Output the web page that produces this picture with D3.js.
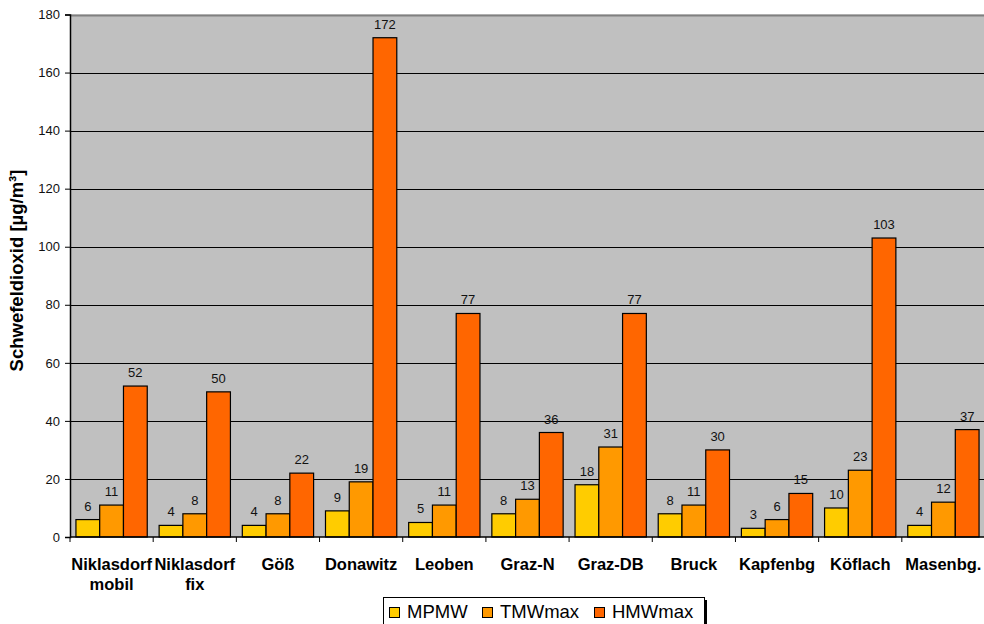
<!DOCTYPE html>
<html>
<head>
<meta charset="utf-8">
<script src="https://cdn.jsdelivr.net/npm/d3@7/dist/d3.min.js"></script>
<style>
  html, body { margin: 0; padding: 0; background: #fff; }
  svg { display: block; font-family: Arial, "Liberation Sans", sans-serif; }
</style>
</head>
<body>
<svg id="chart" width="984" height="624"></svg>
<script>
// Stations and SO2 readings per station
const stations = ["Niklasdorf\nmobil", "Niklasdorf\nfix", "Göß", "Donawitz", "Leoben", "Graz-N", "Graz-DB", "Bruck", "Kapfenbg", "Köflach", "Masenbg."];
const seriesNames = ["MPMW", "TMWmax", "HMWmax"];
const mpmw   = [6, 4, 4, 9, 5, 8, 18, 8, 3, 10, 4];
const tmwmax = [11, 8, 8, 19, 11, 13, 31, 11, 6, 23, 12];
const hmwmax = [52, 50, 22, 172, 77, 36, 77, 30, 15, 103, 37];
const yTicks = [0, 20, 40, 60, 80, 100, 120, 140, 160, 180];
const seriesColors = ["#FFCC00", "#FF9900", "#FF6600"];
const yTitle = "Schwefeldioxid [µg/m³]";

const seriesValues = [mpmw, tmwmax, hmwmax];
const rows = stations.map((s, i) => ({
  station: s,
  values: seriesNames.map((n, k) => ({ name: n, value: seriesValues[k][i], color: seriesColors[k] }))
}));

const svg = d3.select("#chart");
const plot = { left: 70, top: 14.5, right: 985, bottom: 537 };

const x = d3.scaleBand().domain(stations).range([plot.left, plot.right]).paddingInner(0).paddingOuter(0);
const xs = d3.scaleBand().domain(seriesNames).range([0, x.bandwidth()]).paddingInner(0).paddingOuter(0.25);
const y = d3.scaleLinear().domain([0, 180]).range([plot.bottom, plot.top]);

// plot background
svg.append("rect")
  .attr("x", plot.left).attr("y", plot.top)
  .attr("width", plot.right - plot.left).attr("height", plot.bottom - plot.top)
  .attr("fill", "#C0C0C0");

// horizontal gridlines
svg.append("g").selectAll("line")
  .data(yTicks.filter(t => t > 0))
  .join("line")
  .attr("x1", plot.left).attr("x2", plot.right)
  .attr("y1", d => Math.round(y(d)) + 0.5).attr("y2", d => Math.round(y(d)) + 0.5)
  .attr("stroke", d => d === 180 ? "#808080" : "#000")
  .attr("stroke-width", d => d === 180 ? 2 : 1);

// bars
const groups = svg.append("g").selectAll("g")
  .data(rows)
  .join("g")
  .attr("transform", d => `translate(${x(d.station)},0)`);

groups.selectAll("rect")
  .data(d => d.values)
  .join("rect")
  .attr("x", d => xs(d.name))
  .attr("y", d => y(d.value))
  .attr("width", xs.bandwidth())
  .attr("height", d => y(0) - y(d.value))
  .attr("fill", d => d.color)
  .attr("stroke", "#000")
  .attr("stroke-width", 1.2);

// value labels
groups.selectAll("text")
  .data(d => d.values)
  .join("text")
  .attr("x", d => xs(d.name) + xs.bandwidth() / 2)
  .attr("y", d => y(d.value) - 9)
  .attr("text-anchor", "middle")
  .attr("font-size", 13)
  .attr("fill", "#111")
  .text(d => d.value);

// y axis
const yAxis = d3.axisLeft(y).tickValues(yTicks).tickSize(5).tickPadding(5).tickFormat(d3.format("d"));
const yg = svg.append("g").attr("transform", `translate(${plot.left},0)`).call(yAxis);
yg.select(".domain").attr("stroke", "#000").attr("stroke-width", 1.5);
yg.selectAll(".tick line").attr("stroke", "#000");
yg.selectAll(".tick text").attr("font-size", 13).attr("fill", "#111").attr("font-family", "Arial, 'Liberation Sans', sans-serif");

// x axis baseline and boundary ticks
svg.append("line")
  .attr("x1", plot.left).attr("x2", plot.right)
  .attr("y1", plot.bottom).attr("y2", plot.bottom)
  .attr("stroke", "#000").attr("stroke-width", 1.5);
svg.append("g").selectAll("line")
  .data(stations)
  .join("line")
  .attr("x1", d => x(d)).attr("x2", d => x(d))
  .attr("y1", plot.bottom).attr("y2", plot.bottom + 5)
  .attr("stroke", "#000");

// category labels
const catLabels = svg.append("g").selectAll("text")
  .data(stations)
  .join("text")
  .attr("text-anchor", "middle")
  .attr("font-size", 16.5)
  .attr("font-weight", "bold")
  .attr("fill", "#000");
catLabels.each(function (d) {
  const t = d3.select(this);
  d.split("\n").forEach((line, i) => {
    t.append("tspan")
      .attr("x", x(d) + x.bandwidth() / 2)
      .attr("y", 570 + i * 20)
      .text(line);
  });
});

// y axis title
svg.append("text")
  .attr("transform", `translate(23,${(373 + 168) / 2}) rotate(-90)`)
  .attr("text-anchor", "middle")
  .attr("font-size", 18.5)
  .attr("font-weight", "bold")
  .attr("fill", "#000")
  .text(yTitle);

// legend
const legend = svg.append("g");
legend.append("rect").attr("x", 386).attr("y", 600).attr("width", 321).attr("height", 40).attr("fill", "#000");
legend.append("rect").attr("x", 383.5).attr("y", 597.5).attr("width", 321).attr("height", 40)
  .attr("fill", "#fff").attr("stroke", "#000");
const legendX = [389, 482, 594];
const items = legend.selectAll("g.item")
  .data(seriesNames)
  .join("g")
  .attr("class", "item")
  .attr("transform", (d, i) => `translate(${legendX[i]},0)`);
items.append("rect")
  .attr("x", 0.5).attr("y", 607.5).attr("width", 10).attr("height", 10)
  .attr("fill", (d, i) => seriesColors[i]).attr("stroke", "#000");
items.append("text")
  .attr("x", 18).attr("y", 618)
  .attr("font-size", 18.5)
  .attr("fill", "#000")
  .text(d => d);
</script>
</body>
</html>
